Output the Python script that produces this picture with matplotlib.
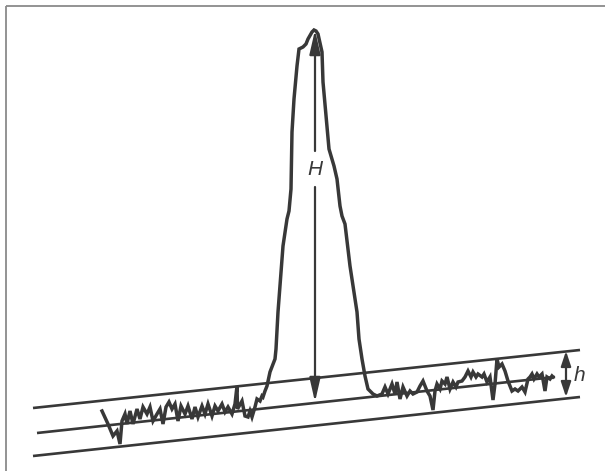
import matplotlib
matplotlib.use("Agg")
import matplotlib.pyplot as plt

# ---- data (drawing units: x to the right, y downward, same frame as the sketch) ----
# three parallel drifting baselines: (x_start, y_start, x_end, y_end)
upper_line = [33, 409, 580, 351]
middle_line = [37, 434, 555, 378]
lower_line = [33, 457, 580, 398]

# detector trace: left noise, peak, right noise
left_noise_x = [102, 108, 113, 117, 120, 122, 125, 127, 130, 133, 137, 140, 143, 147,
                150, 153, 157, 160, 163, 166, 169, 172, 175, 178, 181, 185, 188, 192,
                195, 198, 202, 205, 208, 212, 215, 218, 222, 225, 228, 232, 235, 237,
                237.5, 242, 245, 248, 250, 252, 255, 257, 260, 262, 263, 265, 267]
left_noise_y = [412, 425, 437, 432, 445, 422, 415, 425, 412, 425, 410, 420, 408, 415,
                408, 422, 415, 410, 425, 408, 403, 410, 405, 422, 407, 415, 407, 420,
                408, 418, 407, 415, 405, 417, 407, 412, 405, 413, 408, 415, 405, 387,
                410, 402, 417, 418, 412, 418, 408, 400, 402, 397, 398, 392, 387]

peak_x = [270, 275, 276, 278, 283, 287, 289, 291, 292, 294, 297, 299, 303, 306, 308,
          312, 314, 316, 318, 322, 323, 326, 329, 334, 337, 340, 342, 345, 350, 357,
          359, 362, 365, 368, 373, 377]
peak_y = [373, 360, 350, 313, 247, 220, 212, 190, 133, 100, 67, 50, 48, 45, 40,
          33, 31, 32, 35, 53, 83, 117, 150, 167, 180, 207, 217, 225, 267, 313,
          340, 360, 377, 390, 395, 397]

right_noise_x = [382, 385, 388, 392, 395, 397, 400, 403, 407, 410, 413, 417, 420, 423,
                 427, 430, 433, 435, 437, 440, 442, 445, 447, 450, 453, 456, 458, 462,
                 465, 468, 471, 473, 476, 478, 482, 484, 487, 490, 493, 495, 497, 499,
                 502, 505, 508, 512, 515, 518, 522, 525, 528, 530, 532, 534, 537, 539,
                 542, 545, 547, 550, 552, 553]
right_noise_y = [395, 388, 395, 385, 395, 383, 400, 388, 397, 392, 395, 393, 387, 382,
                 392, 397, 411, 392, 385, 390, 382, 385, 378, 390, 383, 388, 383, 382,
                 378, 372, 378, 373, 378, 375, 378, 375, 383, 378, 401, 385, 360, 368,
                 365, 372, 382, 392, 390, 392, 388, 393, 380, 378, 375, 380, 375, 378,
                 375, 392, 378, 380, 377, 378]

peak_arrow_x = 315
peak_top, peak_base = 31, 403
H_gap = (152, 188)
noise_arrow_x = 566
noise_top, noise_bottom = 352, 398

trace_x = left_noise_x + peak_x + right_noise_x
trace_y = left_noise_y + peak_y + right_noise_y

W, Hh = 605, 477
ink = "#383838"

fig = plt.figure(figsize=(W / 100, Hh / 100), dpi=100)
ax = fig.add_axes([0, 0, 1, 1])
ax.set_xlim(0, W)
ax.set_ylim(Hh, 0)
ax.axis("off")

# frame lines (top and left)
ax.plot([6, W], [7, 7], color="#8a8a8a", lw=1.3, solid_capstyle="butt")
ax.plot([6, 6], [7, 472], color="#8a8a8a", lw=1.3, solid_capstyle="butt")

for ln in (upper_line, middle_line, lower_line):
    ax.plot([ln[0], ln[2]], [ln[1], ln[3]], color=ink, lw=1.9, solid_capstyle="butt")

ax.plot(trace_x, trace_y, color=ink, lw=2.5, solid_joinstyle="miter")

# H arrow (split around label)
ax.annotate("", xy=(peak_arrow_x, peak_top), xytext=(peak_arrow_x, H_gap[0]),
            arrowprops=dict(arrowstyle="-|>,head_length=1.45,head_width=0.33",
                            mutation_scale=10, color=ink, lw=1.6,
                            shrinkA=0, shrinkB=0))
ax.annotate("", xy=(peak_arrow_x, peak_base), xytext=(peak_arrow_x, H_gap[1]),
            arrowprops=dict(arrowstyle="-|>,head_length=1.45,head_width=0.33",
                            mutation_scale=10, color=ink, lw=1.6,
                            shrinkA=0, shrinkB=0))
ax.text(peak_arrow_x, (H_gap[0] + H_gap[1]) / 2, "H", ha="center", va="center",
        fontsize=15, style="italic", family="Liberation Sans", color=ink)

# h arrow
ax.annotate("", xy=(noise_arrow_x, noise_top), xytext=(noise_arrow_x, noise_bottom),
            arrowprops=dict(arrowstyle="<|-|>,head_length=0.9,head_width=0.3",
                            mutation_scale=10, color=ink, lw=1.6,
                            shrinkA=0, shrinkB=0))
ax.text(574, 376, "h", ha="left", va="center", fontsize=15, style="italic",
        family="Liberation Sans", color=ink)

fig.savefig("out.png", dpi=100, facecolor="white")
